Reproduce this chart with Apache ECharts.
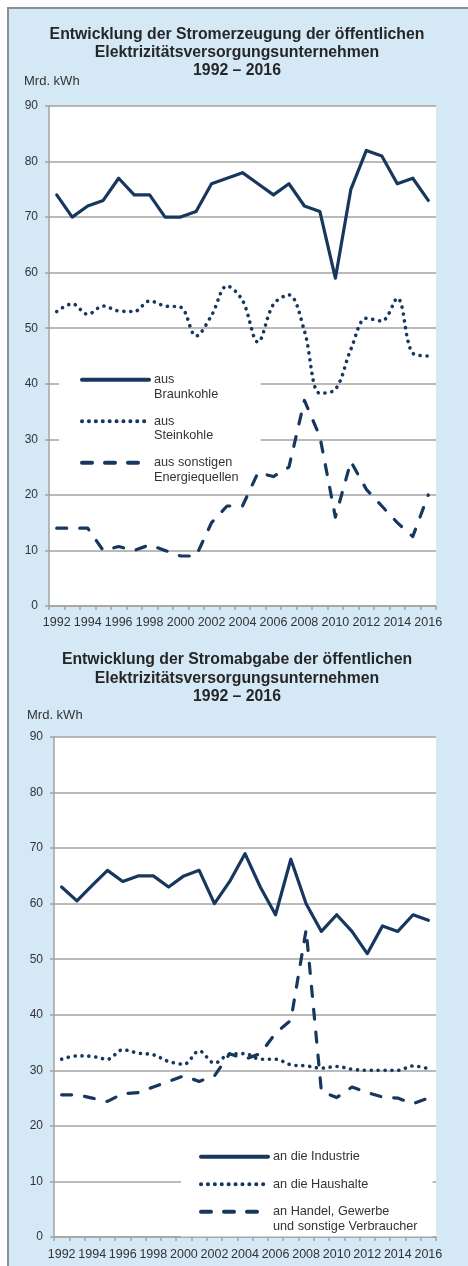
<!DOCTYPE html>
<html>
<head>
<meta charset="utf-8">
<title>Stromerzeugung und Stromabgabe</title>
<script src="https://cdn.jsdelivr.net/npm/echarts@6/dist/echarts.min.js"></script>
<style>
  html, body { margin: 0; padding: 0; background: #fff; }
  #frame {
    position: absolute; left: 7px; top: 7px; width: 480px; height: 1280px;
    background: #d4e8f6; border-left: 2px solid #8e8e8e; border-top: 2px solid #8e8e8e;
  }
  #chart { position: absolute; left: 0; top: 0; width: 468px; height: 1266px; }
</style>
</head>
<body>
<div id="frame"></div>
<div id="chart"></div>
<script>
const years = ["1992", "1993", "1994", "1995", "1996", "1997", "1998", "1999", "2000", "2001", "2002", "2003", "2004",
  "2005", "2006", "2007", "2008", "2009", "2010", "2011", "2012", "2013", "2014", "2015", "2016"];

// Stromerzeugung, Mrd. kWh
const braunkohle = [74, 70, 72, 73, 77, 74, 74, 70, 70, 71, 76, 77, 78, 76, 74, 76, 72, 71, 59, 75, 82, 81, 76, 77, 73];
const steinkohle = [53, 54.4, 52.5, 54, 53.1, 53, 54.9, 54, 53.8, 48.6, 52.3, 57.6, 55, 47.5, 54.3, 56, 49.5, 38.3, 39,
  46.2, 51.8, 51.3, 55.4, 45.5, 45];
const sonstige = [14, 14, 14, 10, 10.7, 10, 11, 10, 9, 9, 15, 18, 18, 24, 23.3, 25, 37, 30.5, 16, 26, 21, 18, 15, 12.5, 20];

// Stromabgabe, Mrd. kWh
const industrie = [63, 60.5, 63.3, 66, 64, 65, 65, 63, 65, 66, 60, 64, 69, 63, 58, 68, 60, 55, 58, 55, 51, 56, 55, 58, 57];
const haushalte = [32, 32.6, 32.5, 32, 33.7, 33.1, 32.8, 31.6, 31.1, 33.5, 31.3, 32.9, 33, 32, 32, 31, 30.8, 30.4, 30.7,
  30.2, 30, 30, 30, 30.8, 30.3];
const handel = [25.6, 25.6, 25, 24.4, 25.8, 26, 27, 28, 29, 28, 29, 33, 32, 33, 36.7, 39, 55.3, 26.2, 25.1, 27, 26, 25.2,
  25, 24, 25];

const yTicks = { min: 0, max: 90, interval: 10 };

const FONT = "Liberation Sans, Arial, Helvetica, sans-serif";
const NAVY = "#17375e";
const GRAY = "#a3a3a3";
const TXT = "#333";

const chart = echarts.init(document.getElementById("chart"), null, { renderer: "canvas" });

function lineSeries(name, data, kind, idx) {
  const ls = { color: NAVY, width: 3.2, cap: "round", join: "round" };
  if (kind === "dot") { ls.type = [0.1, 6.8]; ls.width = 3.6; }
  if (kind === "dash") ls.type = [10, 13];
  return {
    name, type: "line", data,
    xAxisIndex: idx, yAxisIndex: idx,
    symbol: "none", smooth: kind === "dot" ? 0.35 : false,
    lineStyle: ls, itemStyle: { color: NAVY },
    z: 5, silent: true, animation: false,
  };
}

function xAxis(idx, margin) {
  return {
    type: "category", gridIndex: idx, data: years, boundaryGap: true,
    axisLine: { lineStyle: { color: GRAY, width: 1.5 } },
    axisTick: { show: true, interval: 0, length: 4, lineStyle: { color: GRAY, width: 1.5 } },
    axisLabel: { interval: 1, margin, fontSize: 12.5, color: TXT, fontFamily: FONT },
    splitLine: { show: false },
  };
}

function yAxis(idx) {
  return {
    type: "value", gridIndex: idx, ...yTicks,
    axisLine: { show: true, lineStyle: { color: GRAY, width: 1.5 } },
    axisTick: { show: true, length: 4, lineStyle: { color: GRAY, width: 1.5 } },
    axisLabel: { margin: 11, fontSize: 12, color: TXT, fontFamily: FONT },
    splitLine: { lineStyle: { color: GRAY, width: 1.5 } },
  };
}

// blank first line so the first text line sits level with the icon
function legendBlock(names, left, top, padding, itemGap) {
  return {
    orient: "vertical", left, top, padding, itemGap,
    backgroundColor: "#fff",
    itemWidth: 67, itemHeight: 14,
    selectedMode: false,
    data: names,
    itemStyle: { opacity: 0 },
    lineStyle: { width: 4 },
    formatter: (n) => " \n" + n + (n.indexOf("\n") >= 0 ? "" : "\n "),
    textStyle: { fontSize: 12.7, color: TXT, lineHeight: 14.5, fontFamily: FONT },
  };
}

const titleStyle = { fontSize: 15.8, fontWeight: "bold", color: "#262626", lineHeight: 18, fontFamily: FONT };
const unitStyle = { fontSize: 13, fontWeight: "normal", color: TXT, fontFamily: FONT };

const genNames = ["aus\nBraunkohle", "aus\nSteinkohle", "aus sonstigen\nEnergiequellen"];
const useNames = ["an die Industrie", "an die Haushalte", "an Handel, Gewerbe\nund sonstige Verbraucher"];

chart.setOption({
  animation: false,
  title: [
    { text: "Entwicklung der Stromerzeugung der öffentlichen\nElektrizitätsversorgungsunternehmen\n1992 – 2016",
      left: 237, top: 26, textAlign: "center", padding: 0, textStyle: titleStyle },
    { text: "Mrd. kWh", left: 24, top: 75, padding: 0, textStyle: unitStyle },
    { text: "Entwicklung der Stromabgabe der öffentlichen\nElektrizitätsversorgungsunternehmen\n1992 – 2016",
      left: 237, top: 650, textAlign: "center", padding: 0, textStyle: { ...titleStyle, lineHeight: 18.8 } },
    { text: "Mrd. kWh", left: 27, top: 709, padding: 0, textStyle: unitStyle },
  ],
  grid: [
    { left: 49, top: 106, width: 387, height: 500, show: true, backgroundColor: "#fff", borderWidth: 0 },
    { left: 54, top: 737, width: 382, height: 500, show: true, backgroundColor: "#fff", borderWidth: 0 },
  ],
  legend: [
    legendBlock(genNames, 59, 353, [5, 22, 5, 21], -2),
    legendBlock(useNames, 181, 1130, [5, 15, 3, 18], -16),
  ],
  xAxis: [xAxis(0, 10), xAxis(1, 11)],
  yAxis: [yAxis(0), yAxis(1)],
  series: [
    lineSeries(genNames[0], braunkohle, "solid", 0),
    lineSeries(genNames[1], steinkohle, "dot", 0),
    lineSeries(genNames[2], sonstige, "dash", 0),
    lineSeries(useNames[0], industrie, "solid", 1),
    lineSeries(useNames[1], haushalte, "dot", 1),
    lineSeries(useNames[2], handel, "dash", 1),
  ],
});
</script>
</body>
</html>
